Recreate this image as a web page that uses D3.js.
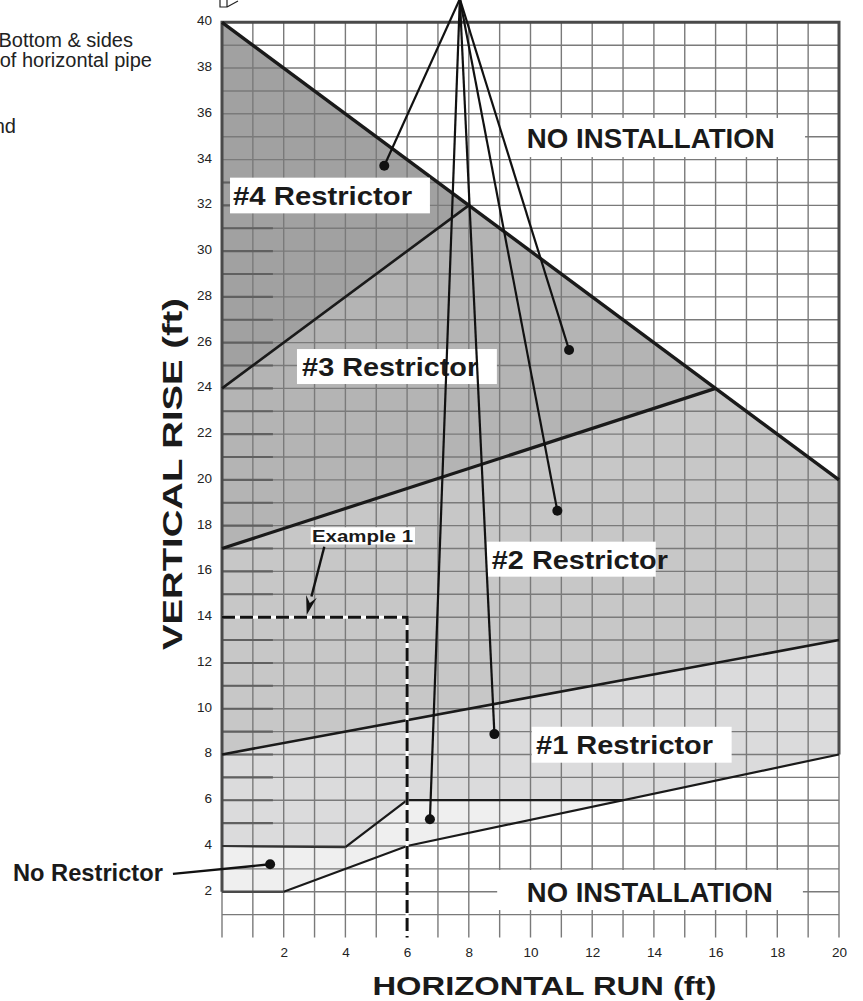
<!DOCTYPE html>
<html><head><meta charset="utf-8">
<script src="https://cdn.jsdelivr.net/npm/d3@7"></script>
<style>
html,body{margin:0;padding:0;background:#fff;}
svg{display:block;font-family:"Liberation Sans",Arial,Helvetica,sans-serif;}
</style></head>
<body>
<svg id="chart" width="863" height="1001"></svg>
<script>
// ---------- data ----------
const xTicks = [2,4,6,8,10,12,14,16,18,20];
const yTicks = [2,4,6,8,10,12,14,16,18,20,22,24,26,28,30,32,34,36,38,40];
const gridX = d3.range(0,21);
const gridY = d3.range(1,41);

// region polygons  [run ft, rise ft]
const region4 = [[0,40],[8,32],[0,24]];
const region3 = [[0,24],[8,32],[16,24],[0,17]];
const region2 = [[0,17],[16,24],[20,20],[20,13],[0,8]];
const region1 = [[0,8],[20,13],[20,8],[13,6],[6,6],[4,3.95],[0,4]];
const regionNone = [[0,4],[4,3.95],[6,6],[13,6],[6,4],[2,2],[0,2]];

// boundary lines
const upperLimit = [[0,40],[20,20]];
const line43 = [[0,24],[8,32]];
const line32 = [[0,17],[16,24]];
const line21 = [[0,8],[20,13]];
const lowerLimit = [[2,2],[6,4],[20,8]];
const line1N = [[4,3.95],[6,6],[13,6]];
const line1Nleft = [[0,4],[4,3.95]];
const frame = [[0,2],[0,40],[20,40],[20,8]];
const frameBottom = [[0,2],[2,2]];

// example 1
const exampleRun = 6, exampleRise = 14;

// pointer callouts
const pointerHub = [7.71, 41.02];
const pointerDots = [[5.26,33.73],[11.25,25.68],[10.87,18.65],[8.83,8.89],[6.74,5.17]];
const noRestrictorDot = [1.56,3.2];
const noRestrictorStart = [-1.59,2.78];
const exampleArrow = [[3.316,17.08],[2.745,14.1]];

// labels
const labelTexts = ["NO INSTALLATION","NO INSTALLATION","#4 Restrictor","#3 Restrictor","#2 Restrictor","#1 Restrictor","Example 1"];
// layout of labels (in chart units)
const labelLayout = [
  {cx:13.9,  base:34.5,  box:[9.1,18.9,34.11,35.82],  size:27, len:248},
  {cx:13.87, base:1.56,  box:[8.92,18.83,1.2,2.95],   size:27, len:246},
  {cx:3.26,  base:32.01, box:[0.26,6.74,31.65,33.21], size:26, len:179},
  {cx:5.45,  base:24.55, box:[2.43,8.91,24.19,25.72], size:26, len:176},
  {cx:11.6,  base:16.1,  box:[8.58,14.06,15.77,17.3], size:26, len:176},
  {cx:13.05, base:8.02,  box:[10.04,16.52,7.64,9.21], size:26, len:177},
  {cx:4.554, base:17.3,  box:[2.875,6.256,17.18,17.93], size:16, len:101}
];

// ---------- drawing ----------
const svg = d3.select("#chart");
const x = d3.scaleLinear().domain([0,20]).range([222,839]);
const y = d3.scaleLinear().domain([0,40]).range([937.5,22.3]);
const line = d3.line().x(d=>x(d[0])).y(d=>y(d[1]));
const poly = pts => line(pts) + "Z";

// fills
const fills = [[region4,"#a1a1a1"],[region3,"#b4b4b4"],[region2,"#c7c7c7"],[region1,"#dbdbdc"],[regionNone,"#efefef"]];
svg.append("g").selectAll("path").data(fills).join("path")
  .attr("d",d=>poly(d[0])).attr("fill",d=>d[1]);

// grid
const grid = svg.append("g").attr("stroke","#7a7a7a").attr("stroke-width",1.4);
grid.selectAll("line.v").data(gridX).join("line").attr("class","v")
  .attr("x1",d=>x(d)).attr("x2",d=>x(d)).attr("y1",y(40)).attr("y2",y(0));
grid.selectAll("line.h").data(gridY).join("line").attr("class","h")
  .attr("x1",x(0)).attr("x2",x(20)).attr("y1",d=>y(d)).attr("y2",d=>y(d));
// darker stubs at the left edge
svg.append("g").attr("stroke","#606060").attr("stroke-width",2.1)
  .selectAll("line").data(d3.range(5,34)).join("line")
  .attr("x1",x(0)).attr("x2",x(1.65)).attr("y1",d=>y(d)).attr("y2",d=>y(d));

// frame
svg.append("path").attr("d",line(frame)).attr("fill","none").attr("stroke","#4a4a4a").attr("stroke-width",3);
svg.append("path").attr("d",line(frameBottom)).attr("fill","none").attr("stroke","#4a4a4a").attr("stroke-width",2.4);

// boundaries
const bounds = [[upperLimit,3.4,"#1a1a1a"],[line43,2.6,"#1a1a1a"],[line32,3.2,"#1a1a1a"],[line21,2.6,"#1a1a1a"],
  [lowerLimit,2.2,"#1a1a1a"],[line1N,2.2,"#1a1a1a"],[line1Nleft,2.2,"#333"]];
svg.append("g").selectAll("path").data(bounds).join("path")
  .attr("d",d=>line(d[0])).attr("fill","none").attr("stroke",d=>d[2]).attr("stroke-width",d=>d[1])
  .attr("stroke-linejoin","miter");

// example 1 dashed lines
const exPath = [[0,exampleRise],[exampleRun,exampleRise],[exampleRun,0]];
svg.append("path").attr("d",line(exPath)).attr("fill","none").attr("stroke","#fff").attr("stroke-width",3);
svg.append("path").attr("d",line(exPath)).attr("fill","none").attr("stroke","#111").attr("stroke-width",3)
  .attr("stroke-dasharray","13,5");

// label boxes + text
const lg = svg.append("g");
labelTexts.forEach((t,i)=>{
  const L = labelLayout[i];
  lg.append("rect").attr("x",x(L.box[0])).attr("y",y(L.box[3]))
    .attr("width",x(L.box[1])-x(L.box[0])).attr("height",y(L.box[2])-y(L.box[3])).attr("fill","#fff");
  lg.append("text").attr("x",x(L.cx)).attr("y",y(L.base)).attr("text-anchor","middle")
    .attr("font-weight","bold").attr("font-size",L.size).attr("fill","#1a1a1a")
    .attr("textLength",L.len).attr("lengthAdjust","spacingAndGlyphs").text(t);
});

// example arrow
{
  const [s,t] = exampleArrow;
  const sx=x(s[0]), sy=y(s[1]), tx=x(t[0]), ty=y(t[1]);
  const ang=Math.atan2(ty-sy,tx-sx), L=19, hw=5.5;
  const bx=tx-L*Math.cos(ang), by=ty-L*Math.sin(ang);
  svg.append("line").attr("x1",sx).attr("y1",sy).attr("x2",bx).attr("y2",by).attr("stroke","#111").attr("stroke-width",2.4);
  svg.append("path").attr("d",`M${tx},${ty}L${bx+hw*Math.sin(ang)},${by-hw*Math.cos(ang)}L${bx+0.35*L*Math.cos(ang)},${by+0.35*L*Math.sin(ang)}L${bx-hw*Math.sin(ang)},${by+hw*Math.cos(ang)}Z`).attr("fill","#111");
}

// pointer lines
svg.append("g").selectAll("line").data(pointerDots).join("line")
  .attr("x1",x(pointerHub[0])).attr("y1",y(pointerHub[1]))
  .attr("x2",d=>x(d[0])).attr("y2",d=>y(d[1])).attr("stroke","#111").attr("stroke-width",2.2);
svg.append("g").selectAll("circle").data(pointerDots.concat([noRestrictorDot])).join("circle")
  .attr("cx",d=>x(d[0])).attr("cy",d=>y(d[1])).attr("r",5).attr("fill","#111");
svg.append("line").attr("x1",x(noRestrictorStart[0])).attr("y1",y(noRestrictorStart[1]))
  .attr("x2",x(noRestrictorDot[0])).attr("y2",y(noRestrictorDot[1])).attr("stroke","#111").attr("stroke-width",2.4);

// No Restrictor label
svg.append("text").attr("x",x(noRestrictorStart[0])-10).attr("y",y(2.48)).attr("text-anchor","end")
  .attr("font-weight","bold").attr("font-size",24).attr("fill","#1a1a1a")
  .attr("textLength",150).attr("lengthAdjust","spacingAndGlyphs").text("No Restrictor");

// axes
const ax = svg.append("g").attr("transform",`translate(0,${y(0)})`)
  .call(d3.axisBottom(x).tickValues(xTicks).tickSize(0).tickPadding(10));
ax.select(".domain").remove();
ax.selectAll("text").attr("font-size",13.5).attr("fill","#222").attr("font-family","Liberation Sans, Arial, sans-serif");
const ay = svg.append("g").attr("transform",`translate(${x(0)},0)`)
  .call(d3.axisLeft(y).tickValues(yTicks).tickSize(0).tickPadding(10));
ay.select(".domain").remove();
ay.selectAll("text").attr("font-size",13.5).attr("fill","#222").attr("dy","0.18em").attr("font-family","Liberation Sans, Arial, sans-serif");

// axis titles
svg.append("text").attr("x",(x(0)+x(20))/2+14).attr("y",995).attr("text-anchor","middle")
  .attr("font-weight","bold").attr("font-size",26).attr("fill","#1a1a1a")
  .attr("textLength",344).attr("lengthAdjust","spacingAndGlyphs").text("HORIZONTAL RUN (ft)");
svg.append("text").attr("transform",`translate(182,${(y(0)+y(40))/2-6}) rotate(-90)`).attr("text-anchor","middle")
  .attr("font-weight","bold").attr("font-size",27).attr("fill","#1a1a1a")
  .attr("textLength",352).attr("lengthAdjust","spacingAndGlyphs").text("VERTICAL RISE (ft)");

// side notes (cut by the left edge, as in the source)
const notes = [["Bottom & sides",133,46.7],["of horizontal pipe",152,66.5],["nd",16,133.3]];
svg.append("g").selectAll("text").data(notes).join("text")
  .attr("x",d=>d[1]).attr("y",d=>d[2]).attr("text-anchor","end").attr("font-size",20).attr("fill","#222").text(d=>d[0]);

// small glyph at top
{
  const gx=x(0)-2;
  svg.append("path").attr("d",`M${gx},0V7H${gx+7}V0M${gx+7},7L${gx+18},1`).attr("fill","none").attr("stroke","#222").attr("stroke-width",1.2);
}
</script>
</body></html>
